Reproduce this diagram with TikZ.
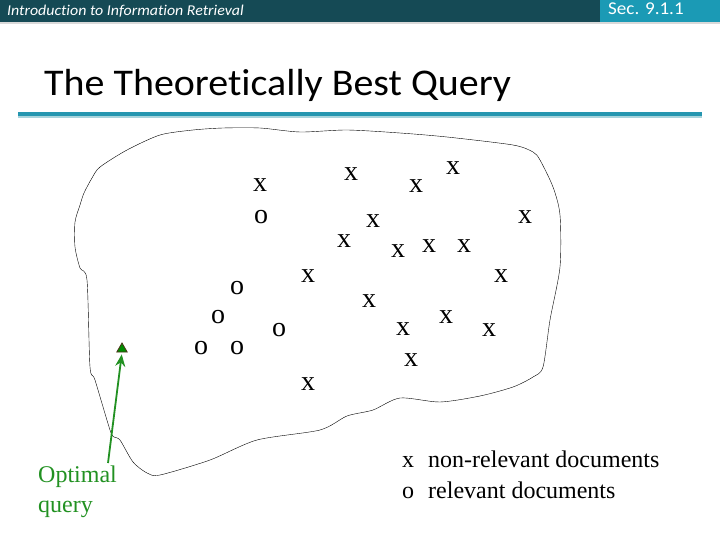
\documentclass[tikz,border=0pt]{standalone}
\usepackage{fontspec}
\setmainfont{Liberation Serif}
\newfontfamily\slidefont{Carlito}[Ligatures=NoCommon,FakeStretch=1.06]
\usepackage{tikz}
\usetikzlibrary{arrows.meta,shapes.geometric}
\definecolor{hdrdark}{RGB}{21,74,85}
\definecolor{hdrlight}{RGB}{27,154,181}
\definecolor{barteal}{RGB}{37,150,176}
\definecolor{barpale}{RGB}{168,212,220}
\definecolor{qgreen}{RGB}{34,145,34}
\tikzset{
  docmark/.style={inner sep=0pt,font=\fontsize{28}{28}\selectfont},
  legendtxt/.style={inner sep=0pt,anchor=base west,font=\fontsize{24}{24}\selectfont},
}

\begin{document}
\begin{tikzpicture}[x=1pt,y=-1pt]
    \useasboundingbox (0,0) rectangle (720,540);
    % slide header
    \fill[hdrdark] (0,0) rectangle (600,22);
    \fill[hdrlight] (600,0) rectangle (720,22);
    \fill[gray!30] (0,22) rectangle (720,24);
    \node[anchor=base west,inner sep=0pt,text=white,font=\slidefont\itshape\fontsize{15}{15}\selectfont] (course) at (7,16) {Introduction to Information Retrieval};
    \node[anchor=base west,inner sep=0pt,text=white,font=\slidefont\fontsize{18}{18}\selectfont] (sec) at (608,15) {Sec. 9.1.1};
    \node[anchor=base west,inner sep=0pt,font=\slidefont\fontsize{37.7}{38}\selectfont] (title) at (44,96) {The Theoretically Best Query};
    \fill[barteal] (18,112) rectangle (702,116);
    \fill[barpale] (18,116) rectangle (702,118);
    % document space
    \draw[thin] plot[smooth cycle,tension=0.45] coordinates {(75,222) (80,205) (84,193) (92,178) (100,167) (127,150) (160,135) (193,130) (223,128) (260,128) (300,132) (347,130) (400,133) (447,137) (513,145) (533,152) (540,160) (553,187) (560,215) (560,267) (550,320) (543,367) (533,377) (513,387) (480,396) (440,402) (400,398) (373,410) (347,416) (320,430) (257,440) (210,460) (160,475) (147,473) (133,462) (120,440) (114,437) (110,430) (95,380) (90,367) (87,280) (80,268) (75,247)};
    % non-relevant
    \node[docmark] (x1) at (260,185) {x};
    \node[docmark] (x2) at (351,174) {x};
    \node[docmark] (x3) at (416,186) {x};
    \node[docmark] (x4) at (453,168) {x};
    \node[docmark] (x5) at (525,217) {x};
    \node[docmark] (x6) at (373,221) {x};
    \node[docmark] (x7) at (344,241) {x};
    \node[docmark] (x8) at (398,251) {x};
    \node[docmark] (x9) at (429,246) {x};
    \node[docmark] (x10) at (464,246) {x};
    \node[docmark] (x11) at (308,276) {x};
    \node[docmark] (x12) at (501,276) {x};
    \node[docmark] (x13) at (369,301) {x};
    \node[docmark] (x14) at (446,317) {x};
    \node[docmark] (x15) at (403,329) {x};
    \node[docmark] (x16) at (489,330) {x};
    \node[docmark] (x17) at (411,360) {x};
    \node[docmark] (x18) at (308,384) {x};
    % relevant
    \node[docmark] (o1) at (261,217) {o};
    \node[docmark] (o2) at (237,288) {o};
    \node[docmark] (o3) at (218,317) {o};
    \node[docmark] (o4) at (279,330) {o};
    \node[docmark] (o5) at (201,348) {o};
    \node[docmark] (o6) at (237,348) {o};
    % optimal query
    \node[regular polygon,regular polygon sides=3,minimum size=12pt,inner sep=0pt,fill=green!55!black,draw=brown!40!black,line width=0.8pt] (q) at (122,349) {};
    \node[anchor=base west,inner sep=0pt,align=left,text=qgreen,font=\fontsize{24}{30}\selectfont] (optlbl) at (38,512) {Optimal\\query};
    \coordinate (qstart) at (108,463);
    \draw[qgreen,line width=1.8pt,-{Stealth[length=12pt,width=10pt]},shorten >=2pt] (qstart) -- (q.south);
    % legend
    \node[legendtxt] (leg1) at (402,467) {x\hspace{14pt}non-relevant documents};
    \node[legendtxt] (leg2) at (402,498) {o\hspace{14pt}relevant documents};
\end{tikzpicture}
\end{document}
